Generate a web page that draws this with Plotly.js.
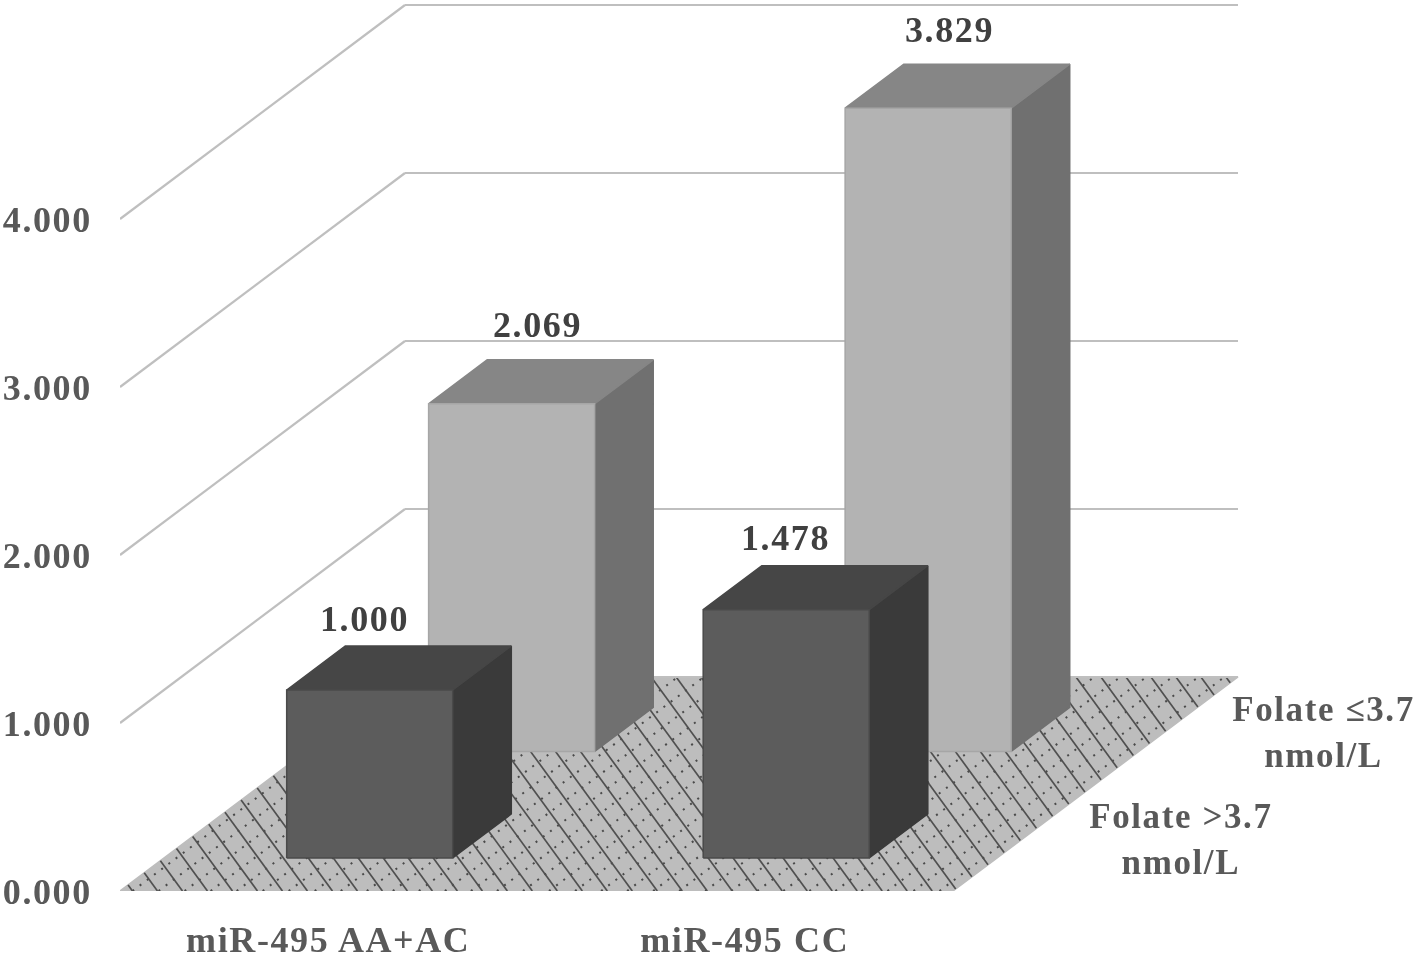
<!DOCTYPE html>
<html><head><meta charset="utf-8">
<script src="https://cdn.plot.ly/plotly-3.0.1.min.js"></script>
<style>
html,body{margin:0;padding:0;background:#fff}
#chart{width:1418px;height:955px;filter:blur(0.5px)}
#chart .xtick text,#chart .ytick text,#chart .annotation-text{letter-spacing:1.6px}
</style></head><body><div id="chart"></div>
<script>
// ---- data ----
const categories = ['miR-495 AA+AC', 'miR-495 CC'];
const depthLabels = ['Folate >3.7<br>nmol/L', 'Folate ≤3.7<br>nmol/L'];
const folateHigh = [1.000, 1.478];   // front row
const folateLow  = [2.069, 3.829];   // back row
const valueTicks = [0, 1, 2, 3, 4];
const valueTickText = ['0.000', '1.000', '2.000', '3.000', '4.000'];

// ---- oblique projection, in axis units ----
const W = 1418, H = 955, ML = 120, MB = 64;
const pxC = 416.5, pxV = 168;
const skewX = 285 / pxC, skewY = 214 / pxV;
const barW = 0.3986, barD = 0.2056, barNudge = -0.006;
const rowZ = [0.257, 0.755];
const X = (c, z) => c + skewX * z;
const Y = (v, z) => v + skewY * z;

function poly(pts, fill, line) {
  return {type: 'scatter', mode: 'lines', x: pts.map(p => X(p[0], p[2])), y: pts.map(p => Y(p[1], p[2])),
    fill: 'toself', fillcolor: fill, line: {color: line, width: 1.5}, hoverinfo: 'skip', showlegend: false, cliponaxis: false};
}
function path(segs, color, width, dash) {
  const x = [], y = [];
  segs.forEach(s => { s.forEach(p => { x.push(X(p[0], p[2])); y.push(Y(p[1], p[2])); }); x.push(null); y.push(null); });
  return {type: 'scatter', mode: 'lines', x, y, line: {color, width, dash: dash || 'solid'}, hoverinfo: 'skip', showlegend: false, cliponaxis: false};
}
function bar(i, z, v, cols) {
  const m = i + 0.5 + barNudge, c0 = m - barW / 2, c1 = m + barW / 2, z0 = z - barD / 2, z1 = z + barD / 2;
  return [
    poly([[c1,0,z0],[c1,0,z1],[c1,v,z1],[c1,v,z0],[c1,0,z0]], cols.side, cols.side),
    poly([[c0,v,z0],[c1,v,z0],[c1,v,z1],[c0,v,z1],[c0,v,z0]], cols.top, cols.top),
    poly([[c0,0,z0],[c1,0,z0],[c1,v,z0],[c0,v,z0],[c0,0,z0]], cols.front, cols.edge)
  ];
}

const nC = categories.length;
const traces = [];

// floor
traces.push(poly([[0,0,0],[nC,0,0],[nC,0,1],[0,0,1],[0,0,0]], '#bdbdbd', '#bdbdbd'));
// floor hatch: dark lines running down-right, dotted lines running along the depth
const hatchDark = [], hatchDot = [];
const slant = 1.059, stepC = 0.06;
for (let k = stepC / 2; k < nC + slant; k += stepC) {
  const zA = Math.max(0, (k - nC) / slant), zB = Math.min(1, k / slant);
  if (zB > zA) hatchDark.push([[k - slant * zA, 0, zA], [k - slant * zB, 0, zB]]);
}
for (let c = 0.03; c < nC; c += 0.0625) hatchDot.push([[c, 0, 0], [c, 0, 1]]);
traces.push(path(hatchDot, '#4a4a4a', 2, '2px,7px'));
traces.push(path(hatchDark, '#505050', 1.7));

// walls: grid lines on the side wall and the back wall
const gridSegs = [];
valueTicks.forEach(v => {
  if (v > 0) gridSegs.push([[0, v, 0], [0, v, 1]]);
  gridSegs.push([[0, v, 1], [nC, v, 1]]);
});
traces.push(path(gridSegs, '#bfbfbf', 2.2));

// bars, back row first
const colLight = {front: '#b3b3b3', top: '#868686', side: '#707070', edge: '#a6a6a6'};
const colDark  = {front: '#5c5c5c', top: '#464646', side: '#3a3a3a', edge: '#4a4a4a'};
folateLow.forEach((v, i) => traces.push(...bar(i, rowZ[1], v, colLight)));
folateHigh.forEach((v, i) => traces.push(...bar(i, rowZ[0], v, colDark)));

// value labels and depth labels
const font = 'Liberation Serif, Times New Roman, serif';
const annotations = [];
const shifts = {high: [[-5, 71], [-1, 72]], low: [[26, 79], [21, 78]]};
function valueLabel(v, i, z, s) {
  annotations.push({x: X(i + 0.5 + barNudge, z - barD / 2), y: Y(v, z - barD / 2), text: v.toFixed(3), showarrow: false,
    xshift: s[0], yshift: s[1], xanchor: 'center', yanchor: 'middle',
    font: {family: font, size: 36, color: '#404040', weight: 700}});
}
folateHigh.forEach((v, i) => valueLabel(v, i, rowZ[0], shifts.high[i]));
folateLow.forEach((v, i) => valueLabel(v, i, rowZ[1], shifts.low[i]));
depthLabels.forEach((t, r) => annotations.push({x: X(nC, r ? 0.75 : 0.25), y: Y(0, r ? 0.75 : 0.25), text: t, showarrow: false,
  xshift: 157, yshift: -2, xanchor: 'center', yanchor: 'middle',
  font: {family: font, size: 35, color: '#595959', weight: 700}}));

const tickFont = {family: font, size: 36, color: '#595959', weight: 700};
const layout = {
  width: W, height: H, paper_bgcolor: '#fff', plot_bgcolor: '#fff',
  margin: {l: ML, r: 0, t: 0, b: MB, pad: 0}, showlegend: false, annotations,
  xaxis: {range: [0, (W - ML) / pxC], tickmode: 'array', tickvals: categories.map((_, i) => i + 0.5), ticktext: categories,
    showgrid: false, zeroline: false, showline: false, ticks: 'outside', ticklen: 17, tickcolor: 'rgba(0,0,0,0)', tickfont: tickFont, fixedrange: true},
  yaxis: {range: [0, (H - MB) / pxV], tickmode: 'array', tickvals: valueTicks, ticktext: valueTickText,
    showgrid: false, zeroline: false, showline: false, ticks: 'outside', ticklen: 20, tickcolor: 'rgba(0,0,0,0)', tickfont: tickFont, fixedrange: true}
};
Plotly.newPlot('chart', traces, layout, {displayModeBar: false, staticPlot: true});
</script></body></html>
